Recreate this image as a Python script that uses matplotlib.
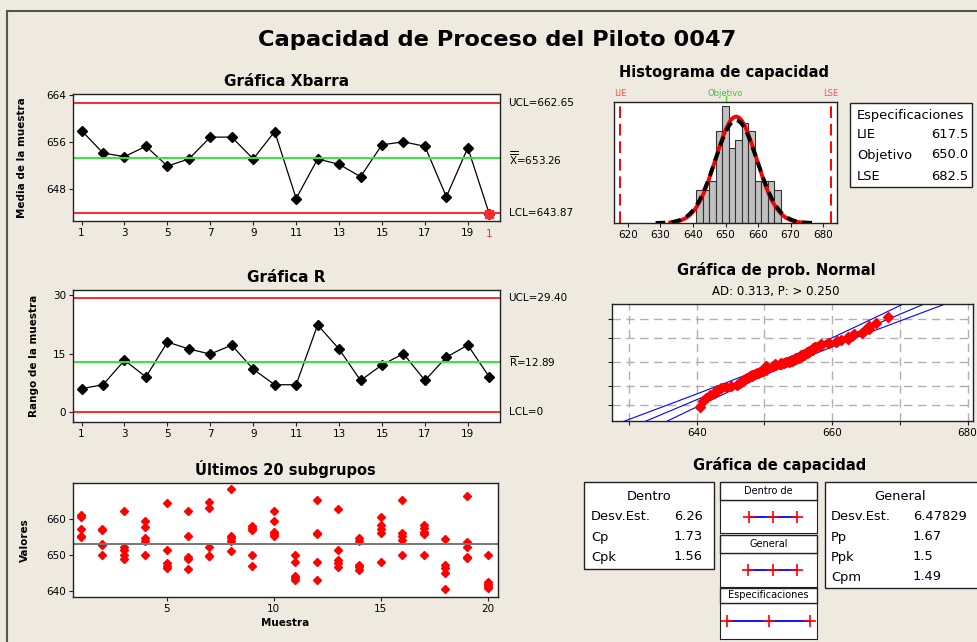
import numpy as np
import matplotlib
matplotlib.use("Agg")
import matplotlib.pyplot as plt
from matplotlib.patches import Rectangle
from statistics import NormalDist

# ---- data ----
muestras = list(range(1, 21))
xbarra = [657.9, 654.1, 653.5, 655.25, 651.9, 653.1, 656.8, 656.8, 653.1, 657.75,
          646.4, 653.1, 652.2, 650.1, 655.5, 656.0, 655.25, 646.7, 655.0, 643.8]
rangos = [6, 7, 13.3, 9, 18, 16.2, 14.9, 17.2, 11, 7,
          7, 22.4, 16.2, 8.1, 12.1, 15, 8.1, 14.1, 17.2, 9]
subgrupos = [
    [661.3, 660.6, 657.2, 655.3, 655.1],
    [657.2, 657.0, 653.2, 652.9, 650.2],
    [662.3, 652.4, 651.6, 650.2, 649.0],
    [659.5, 658.0, 654.7, 654.0, 650.2],
    [664.4, 651.5, 647.8, 647.0, 646.4],
    [662.3, 655.4, 649.4, 648.9, 646.1],
    [664.7, 663.2, 652.4, 649.8, 649.8],
    [668.3, 655.4, 654.7, 654.1, 651.3],
    [658.2, 657.5, 657.1, 650.2, 647.1],
    [662.3, 659.4, 656.6, 655.9, 655.4],
    [650.2, 648.2, 644.3, 643.6, 643.0],
    [665.5, 656.3, 656.0, 648.2, 643.0],
    [663.0, 651.5, 648.6, 647.9, 646.8],
    [654.7, 654.1, 647.4, 646.7, 646.0],
    [660.7, 658.4, 657.2, 656.3, 648.2],
    [665.5, 656.3, 655.4, 654.3, 650.2],
    [658.4, 657.5, 656.6, 655.9, 650.2],
    [654.5, 647.4, 646.5, 645.1, 640.5],
    [666.5, 653.6, 652.3, 649.5, 649.3],
    [650.2, 642.5, 641.9, 641.4, 641.0],
]
hist_centros = [642, 644, 646, 648, 650, 652, 654, 656, 658, 660, 662, 664, 666]
hist_conteos = [4, 4, 5, 11, 14, 9, 10, 12, 11, 5, 5, 5, 4]

media = 653.26
ucl_x, lcl_x = 662.65, 643.87
rbar, ucl_r, lcl_r = 12.89, 29.40, 0
lie, objetivo, lse = 617.5, 650.0, 682.5
sd_dentro, sd_general = 6.26, 6.47829
n_total = 100

W, H = 977, 642
BG = '#EEEAE0'
RED = '#FF2A2A'
GREEN = '#33E833'

plt.rcParams['font.family'] = 'DejaVu Sans'
plt.rcParams['mathtext.fontset'] = 'dejavusans'
fig = plt.figure(figsize=(W / 100, H / 100), dpi=100, facecolor=BG)


def px_axes(l, t, r, b):
    return fig.add_axes([l / W, 1 - b / H, (r - l) / W, (b - t) / H])


def ftext(x, y, s, **kw):
    fig.text(x / W, 1 - y / H, s, **kw)


def style(ax):
    ax.set_facecolor('white')
    for sp in ax.spines.values():
        sp.set_color('#222222')
        sp.set_linewidth(1.0)
    ax.tick_params(labelsize=7.5, length=3, width=0.8, color='#222222', pad=2)


# frame
fig.add_artist(plt.Line2D([7 / W, 7 / W], [0, 1 - 11 / H], color='#555555', lw=1.5))
fig.add_artist(plt.Line2D([7 / W, 1], [1 - 11 / H, 1 - 11 / H], color='#555555', lw=1.5))

ftext(497, 40, 'Capacidad de Proceso del Piloto 0047', fontsize=16.2,
      fontweight='bold', ha='center', va='center')

# ---- Xbarra ----
ax = px_axes(73, 94, 500, 221)
style(ax)
ax.plot(muestras, xbarra, color='black', lw=0.9, marker='D', ms=5, mfc='black', mec='black')
ax.plot(muestras[-1], xbarra[-1], marker='s', ms=6, color=RED, ls='none')
ax.axhline(ucl_x, color=RED, lw=1.4)
ax.axhline(lcl_x, color=RED, lw=1.4)
ax.axhline(media, color=GREEN, lw=1.4)
ax.set_xlim(0.6, 20.5)
ax.set_ylim(642.6, 664.1)
ax.set_yticks([648, 656, 664])
ax.set_xticks(range(1, 20, 2))
ax.text(20, -0.06, '1', color=RED, fontsize=7.5, ha='center', va='top',
        transform=ax.get_xaxis_transform())
ax.set_ylabel('Media de la muestra', fontsize=7.5, fontweight='bold', labelpad=14)
ax.set_title('Gráfica Xbarra', fontsize=11, fontweight='bold', pad=6)
for y, s in [(ucl_x, 'UCL=662.65'), (media, r'$\overline{\overline{\mathrm{X}}}$=653.26'),
             (lcl_x, 'LCL=643.87')]:
    ax.text(1.02, y, s, transform=ax.get_yaxis_transform(), fontsize=7.5, va='center')

# ---- R ----
ax = px_axes(73, 290, 500, 422)
style(ax)
ax.plot(muestras, rangos, color='black', lw=0.9, marker='D', ms=5, mfc='black', mec='black')
ax.axhline(ucl_r, color=RED, lw=1.4)
ax.axhline(lcl_r, color=RED, lw=1.4)
ax.axhline(rbar, color=GREEN, lw=1.4)
ax.set_xlim(0.6, 20.5)
ax.set_ylim(-2.6, 31.4)
ax.set_yticks([0, 15, 30])
ax.set_xticks(range(1, 20, 2))
ax.set_ylabel('Rango de la muestra', fontsize=7.5, fontweight='bold', labelpad=10)
ax.set_title('Gráfica R', fontsize=11, fontweight='bold', pad=6)
for y, s in [(ucl_r, 'UCL=29.40'), (rbar, r'$\overline{\mathrm{R}}$=12.89'), (lcl_r, 'LCL=0')]:
    ax.text(1.02, y, s, transform=ax.get_yaxis_transform(), fontsize=7.5, va='center')

# ---- ultimos 20 subgrupos ----
ax = px_axes(73, 483, 498, 597)
style(ax)
for i, vals in zip(muestras, subgrupos):
    ax.plot([i] * len(vals), vals, ls='none', marker='D', ms=4.5, color='red')
ax.axhline(media, color='#777777', lw=1.4)
ax.set_xlim(0.63, 20.47)
ax.set_ylim(638.4, 670.1)
ax.set_yticks([640, 650, 660])
ax.set_xticks([5, 10, 15, 20])
ax.set_ylabel('Valores', fontsize=7.5, fontweight='bold', labelpad=12)
ax.set_xlabel('Muestra', fontsize=7.5, fontweight='bold', labelpad=3)
ax.set_title('Últimos 20 subgrupos', fontsize=10.5, fontweight='bold', pad=6)

# ---- histograma ----
ax = px_axes(614, 102, 837, 223)
style(ax)
ax.bar(hist_centros, hist_conteos, width=2, color='#C0C0C0', edgecolor='#333333', lw=0.8)
xs_g = np.linspace(628.5, 678, 300)
xs_d = np.linspace(633, 673.5, 300)
pdf = lambda x, s: np.exp(-0.5 * ((x - media) / s) ** 2) / (s * np.sqrt(2 * np.pi))
ax.plot(xs_d, n_total * 2 * pdf(xs_d, sd_dentro), color='red', lw=2.8)
ax.plot(xs_g, n_total * 2 * pdf(xs_g, sd_general), color='black', lw=2.8, ls=(0, (2.5, 1.6)))
for v in (lie, lse):
    ax.axvline(v, color='red', lw=1.4, ls=(0, (6, 3)))
ax.set_xlim(615.7, 684.3)
ax.set_ylim(0, 14.5)
ax.set_yticks([])
ax.set_xticks(range(620, 681, 10))
ax.plot([objetivo, objetivo], [1.0, 1.05], color=GREEN, lw=1, clip_on=False,
        transform=ax.get_xaxis_transform())
for v, s, c in [(lie, 'LIE', '#FF5050'), (objetivo, 'Objetivo', '#40C040'), (lse, 'LSE', '#FF5050')]:
    ax.text(v, 1.03, s, color=c, fontsize=6, ha='center', va='bottom',
            transform=ax.get_xaxis_transform())
ftext(724, 73, 'Histograma de capacidad', fontsize=10.5, fontweight='bold', ha='center', va='center')

# especificaciones box
fig.add_artist(Rectangle((850 / W, 1 - 187 / H), 122 / W, 84 / H, transform=fig.transFigure,
                         facecolor='white', edgecolor='#222222', lw=1.0))
ftext(857, 115, 'Especificaciones', fontsize=9.4, va='center')
for y, k, v in [(134, 'LIE', '617.5'), (155, 'Objetivo', '650.0'), (176, 'LSE', '682.5')]:
    ftext(857, y, k, fontsize=9.4, va='center')
    ftext(968, y, v, fontsize=9.4, va='center', ha='right')

# ---- prob normal ----
ax = px_axes(612, 304, 973, 421)
style(ax)
valores = np.sort(np.concatenate(subgrupos))
n = len(valores)
z = np.array([NormalDist().inv_cdf((i - 0.3) / (n + 0.4)) for i in range(1, n + 1)])
zz = np.linspace(-3.3, 3.3, 100)
ajuste = media + sd_general * zz
banda = 1.96 * sd_general * np.sqrt(1 / n + zz ** 2 / (2 * (n - 1)))
for curva in (ajuste, ajuste - banda, ajuste + banda):
    ax.plot(curva, zz, color='blue', lw=0.8)
ax.plot(valores, z, ls='none', marker='D', ms=5, color='red')
pct = [1, 10, 50, 90, 99]
ax.set_yticks([NormalDist().inv_cdf(p / 100) for p in pct])
ax.set_yticklabels([])
ax.set_xticks([630, 640, 650, 660, 670, 680])
ax.set_xticklabels(['', '640', '', '660', '', '680'])
ax.grid(True, color='#B0B0B0', ls=(0, (6, 4)), lw=1.0)
ax.set_axisbelow(True)
ax.set_xlim(627.5, 680.8)
ax.set_ylim(-3.2, 3.14)
ftext(776, 270, 'Gráfica de prob. Normal', fontsize=10.5, fontweight='bold', ha='center', va='center')
ftext(776, 291, 'AD: 0.313, P: > 0.250', fontsize=8.5, ha='center', va='center')

# ---- grafica de capacidad ----
ftext(780, 465, 'Gráfica de capacidad', fontsize=10.5, fontweight='bold', ha='center', va='center')


def caja(l, t, r, b):
    fig.add_artist(Rectangle((l / W, 1 - b / H), (r - l) / W, (b - t) / H,
                             transform=fig.transFigure, facecolor='white',
                             edgecolor='#222222', lw=1.0))


caja(584, 482, 714, 569)
ftext(649, 496, 'Dentro', fontsize=9.4, ha='center', va='center')
for y, k, v in [(517, 'Desv.Est.', '6.26'), (537, 'Cp', '1.73'), (557, 'Cpk', '1.56')]:
    ftext(591, y, k, fontsize=9.4, va='center')
    ftext(703, y, v, fontsize=9.4, va='center', ha='right')

caja(825, 482, 980, 588)
ftext(900, 496, 'General', fontsize=9.4, ha='center', va='center')
for y, k, v in [(517, 'Desv.Est.', '6.47829'), (537, 'Pp', '1.67'),
                (557, 'Ppk', '1.5'), (577, 'Cpm', '1.49')]:
    ftext(831, y, k, fontsize=9.4, va='center')
    ftext(913, y, v, fontsize=9.4, va='center')

paneles = [
    ('Dentro de', 482, 500, 533, (media - 3 * sd_dentro, media, media + 3 * sd_dentro)),
    ('General', 535, 553, 587, (media - 3 * sd_general, media, media + 3 * sd_general)),
    ('Especificaciones', 588, 603, 639, (lie, objetivo, lse)),
]
for nombre, t, m, b, puntos in paneles:
    caja(720, t, 817, m)
    ftext(768.5, (t + m) / 2, nombre, fontsize=7, ha='center', va='center')
    axp = px_axes(720, m, 817, b)
    axp.set_facecolor('white')
    for sp in axp.spines.values():
        sp.set_color('#222222')
    axp.plot([puntos[0], puntos[2]], [0, 0], color='blue', lw=1.3)
    axp.plot(puntos, [0, 0, 0], ls='none', marker='+', ms=8, mew=1.2, color='red')
    axp.set_xlim(612, 688)
    axp.set_ylim(-1, 1)
    axp.set_xticks([])
    axp.set_yticks([])

fig.savefig('out.png', dpi=100, facecolor=BG)
